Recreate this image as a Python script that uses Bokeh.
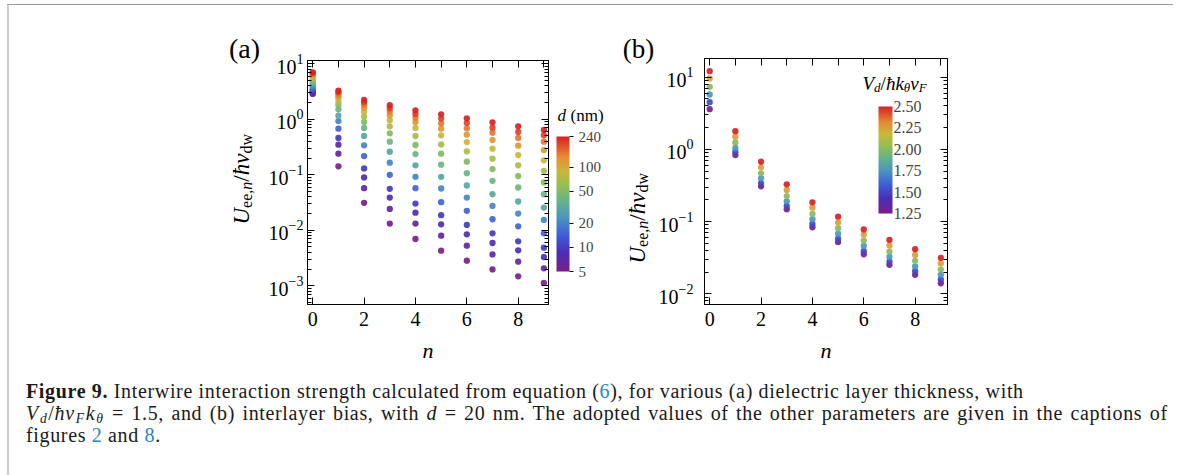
import math
from bokeh.plotting import figure
from bokeh.models import (ColumnDataSource, LogColorMapper, LinearColorMapper, ColorBar,
                          FixedTicker, LinearAxis, LogAxis, Label, Div, Spacer,
                          LogTickFormatter, PrintfTickFormatter)
from bokeh.layouts import row, column
from bokeh.transform import transform
from bokeh.embed import file_html
from bokeh.resources import INLINE

# ---------------- data ----------------
n_values = [0, 1, 2, 3, 4, 5, 6, 7, 8, 9]

# panel (a): dielectric thickness d (nm), ordered large -> small
d_nm = [240, 200, 150, 120, 90, 70, 50, 40, 30, 20, 15, 10, 8, 6.5, 5]
ua_n0 = [7.0, 6.85, 6.6, 6.25, 5.85, 5.45, 5.0, 4.65, 4.3, 3.9, 3.55, 3.3, 3.1, 2.98, 2.86]
ua_n1 = [3.28, 3.07, 2.82, 2.59, 2.39, 2.08, 1.81, 1.51, 1.16, 0.93, 0.677, 0.46, 0.348, 0.240, 0.142]
ua_n2 = [2.23, 2.03, 1.82, 1.60, 1.36, 1.12, 0.895, 0.697, 0.50, 0.339, 0.217, 0.13, 0.0895, 0.0574, 0.0312]
ua_n3 = [1.79, 1.58, 1.38, 1.18, 0.96, 0.747, 0.558, 0.395, 0.26, 0.165, 0.10, 0.0558, 0.0389, 0.0243, 0.0132]
ua_n4 = [1.45, 1.25, 1.07, 0.895, 0.697, 0.50, 0.344, 0.236, 0.148, 0.092, 0.0574, 0.0303, 0.0208, 0.0132, 0.00697]
ua_n5 = [1.23, 1.03, 0.847, 0.678, 0.514, 0.353, 0.240, 0.152, 0.092, 0.0566, 0.0321, 0.0187, 0.0128, 0.0080, 0.0043]
ua_n6 = [1.04, 0.859, 0.688, 0.528, 0.389, 0.264, 0.172, 0.107, 0.0641, 0.0389, 0.0224, 0.0125, 0.00847, 0.00528, 0.00283]
ua_n7 = [0.883, 0.707, 0.574, 0.423, 0.295, 0.195, 0.127, 0.078, 0.0447, 0.0275, 0.0158, 0.00883, 0.0059, 0.00368, 0.00197]
ua_n8 = [0.747, 0.590, 0.460, 0.334, 0.227, 0.148, 0.0946, 0.059, 0.033, 0.020, 0.0118, 0.00633, 0.00435, 0.00272, 0.00148]
ua_n9 = [0.641, 0.514, 0.395, 0.279, 0.182, 0.118, 0.0727, 0.0447, 0.0257, 0.0154, 0.00883, 0.00486, 0.0033, 0.00206, 0.00113]

# panel (b): interlayer bias V_d / hbar k_theta v_F
vd_values = [1.25, 1.5, 1.75, 2.0, 2.25, 2.5]
ub_n0 = [3.61, 4.51, 5.76, 7.35, 9.6, 12.1]
ub_n1 = [0.835, 0.92, 1.05, 1.25, 1.50, 1.79]
ub_n2 = [0.308, 0.342, 0.397, 0.466, 0.564, 0.675]
ub_n3 = [0.148, 0.165, 0.191, 0.226, 0.274, 0.328]
ub_n4 = [0.0835, 0.093, 0.108, 0.128, 0.156, 0.185]
ub_n5 = [0.052, 0.058, 0.068, 0.081, 0.097, 0.117]
ub_n6 = [0.0353, 0.039, 0.046, 0.0546, 0.066, 0.078]
ub_n7 = [0.0252, 0.028, 0.0325, 0.0385, 0.0466, 0.0558]
ub_n8 = [0.0183, 0.0206, 0.0239, 0.0286, 0.0346, 0.0415]
ub_n9 = [0.0140, 0.0158, 0.0183, 0.0217, 0.0265, 0.0315]

x_ticks = [0, 2, 4, 6, 8]
ya_ticks = [1e-3, 1e-2, 1e-1, 1e0, 1e1]
yb_ticks = [1e-2, 1e-1, 1e0, 1e1]
cba_ticks = [5, 10, 20, 50, 100, 240]
cbb_ticks = [1.25, 1.5, 1.75, 2.0, 2.25, 2.5]

# ---------------- colour map (rainbow) ----------------
stops = [(0.0, (122, 30, 135)), (0.14, (75, 45, 185)), (0.27, (62, 95, 215)),
         (0.40, (75, 150, 190)), (0.52, (100, 178, 140)), (0.63, (145, 190, 85)),
         (0.74, (200, 185, 60)), (0.85, (232, 140, 50)), (1.0, (216, 34, 36))]


def make_palette(n=256):
    pal = []
    for i in range(n):
        t = i / (n - 1)
        for (t0, c0), (t1, c1) in zip(stops[:-1], stops[1:]):
            if t0 <= t <= t1:
                f = (t - t0) / (t1 - t0)
                c = [round(a + (b - a) * f) for a, b in zip(c0, c1)]
                pal.append("#%02x%02x%02x" % tuple(c))
                break
    return pal


palette = make_palette()

FONT = "Liberation Serif"

# approximate Times widths (em) for rich label placement
W_R = {" ": .25, "(": .333, ")": .333, ",": .25, ".": .25, "/": .278, "d": .5, "e": .444,
       "m": .778, "n": .5, "w": .722, "k": .5, "v": .5}
W_I = {"U": .722, "V": .611, "F": .611, "d": .5, "e": .444, "n": .5, "k": .444, "v": .444,
       "w": .667, "/": .278, "ħ": .5, "θ": .5, ",": .25}


def text_w(s, size, italic):
    tab = W_I if italic else W_R
    return sum(tab.get(c, .5) for c in s) * size


def add_text(fig, origin, text, px, py, size, italic=False, align="left", angle=0.0):
    # px, py: page pixel position of the anchor, converted to the figure's canvas pixels
    fig.add_layout(Label(x=px - origin[0], y=py - origin[1], x_units="canvas", y_units="canvas",
                         text=text, angle=angle, text_font=FONT,
                         text_font_style=("italic" if italic else "normal"),
                         text_font_size=f"{size}px", text_baseline="alphabetic",
                         text_align=align, text_color="black"))


def rich(fig, origin, pieces, px, py, vertical=False):
    # pieces: (text, font px, italic, baseline shift, gap before)
    pos = 0.0
    for text, size, italic, shift, gap in pieces:
        pos += gap
        if vertical:
            bx, by = px + shift, py - pos
        else:
            bx, by = px + pos, py + shift
        add_text(fig, origin, text, bx, by, size, italic, "left",
                 math.pi / 2 if vertical else 0.0)
        pos += text_w(text, size, italic)


def blank_fig(w, h):
    p = figure(width=w, height=h, x_range=(0, w), y_range=(0, h), x_axis_type=None,
               y_axis_type=None, min_border=0, toolbar_location=None, output_backend="svg",
               frame_align=False)
    p.outline_line_color = None
    p.xgrid.visible = False
    p.ygrid.visible = False
    p.background_fill_color = "white"
    p.border_fill_color = "white"
    return p


def style_axes(p, y_ticks, y_minor, label_standoff_y):
    p.xgrid.visible = False
    p.ygrid.visible = False
    p.outline_line_color = "black"
    p.outline_line_width = 1
    p.background_fill_color = "white"
    p.border_fill_color = "white"
    xa = p.xaxis[0]
    xa.ticker = FixedTicker(ticks=x_ticks, minor_ticks=[])
    ya = p.yaxis[0]
    ya.ticker = FixedTicker(ticks=y_ticks, minor_ticks=y_minor)
    ya.formatter = LogTickFormatter()
    for ax in (xa, ya):
        ax.major_label_text_font = FONT
        ax.major_label_text_font_size = "20px"
        ax.major_label_text_color = "black"
        ax.axis_line_color = "black"
        ax.major_tick_line_color = "black"
        ax.minor_tick_line_color = "black"
        ax.major_tick_in = 7
        ax.major_tick_out = 0
        ax.minor_tick_in = 4
        ax.minor_tick_out = 0
    xa.major_label_standoff = 7
    ya.major_label_standoff = label_standoff_y
    xa.axis_label = "n"
    xa.axis_label_text_font = FONT
    xa.axis_label_text_font_style = "italic"
    xa.axis_label_text_font_size = "22px"
    xa.axis_label_text_color = "black"
    xa.axis_label_standoff = 9
    top = LinearAxis(ticker=FixedTicker(ticks=n_values, minor_ticks=[]))
    right = LogAxis(ticker=FixedTicker(ticks=y_ticks, minor_ticks=y_minor))
    for ax in (top, right):
        ax.major_label_text_font_size = "0px"
        ax.major_label_text_color = None
        ax.major_label_standoff = 0
        ax.axis_line_color = "black"
        ax.major_tick_line_color = "black"
        ax.minor_tick_line_color = "black"
        ax.major_tick_in = 7
        ax.major_tick_out = 0
        ax.minor_tick_in = 4
        ax.minor_tick_out = 0
    p.add_layout(top, "above")
    p.add_layout(right, "right")


def minor_for(decades):
    return [m * 10.0 ** e for e in decades for m in range(2, 10)]


YL_PIECES = [("U", 23, True, 0, 0), ("ee,", 16, False, 5, 0), ("n", 16, True, 5, 0),
             ("/", 23, False, 0, 0), ("ħ", 23, True, 0, 0), ("v", 23, True, 0, 0),
             ("dw", 16, False, 5, 0)]

# page columns: lab_a 9..265 | fig_a 265..552 | cbf_a 552..620 | lab_b 620..655 | fig_b 655..1171
TOP, BOT = 5, 375

# ---------------- panel (a) ----------------
A_L, A_R, A_T, A_B = 304, 548, 60, 304
xa_range = (-0.204, 9.18)
ya_range = (10 ** -3.337, 10 ** 1.059)

lab_a = blank_fig(265 - 9, BOT - TOP)
rich(lab_a, (9, TOP), YL_PIECES, 241, 224, vertical=True)
add_text(lab_a, (9, TOP), "(a)", 244, 48, 28, align="center")

fig_a = figure(width=552 - 265, height=BOT - TOP, x_range=xa_range, y_range=ya_range,
               y_axis_type="log", output_backend="svg", toolbar_location=None,
               min_border_left=A_L - 265, min_border_right=552 - A_R,
               min_border_top=A_T - TOP, min_border_bottom=BOT - A_B, frame_align=False)
style_axes(fig_a, ya_ticks, minor_for([-4, -3, -2, -1, 0, 1]), 4)

ua_cols = [ua_n0, ua_n1, ua_n2, ua_n3, ua_n4, ua_n5, ua_n6, ua_n7, ua_n8, ua_n9]
xs, ys, cs = [], [], []
for n, col in zip(n_values, ua_cols):
    for d, u in reversed(list(zip(d_nm, col))):
        xs.append(n)
        ys.append(u)
        cs.append(d)
src_a = ColumnDataSource(dict(n=xs, u=ys, d=cs))
map_a = LogColorMapper(palette=palette, low=5, high=240)
fig_a.scatter("n", "u", source=src_a, size=6.3, fill_color=transform("d", map_a),
              line_color=None, fill_alpha=0.92)

cbf_a = blank_fig(620 - 552, BOT - TOP)
cb_a = ColorBar(color_mapper=map_a, ticker=FixedTicker(ticks=cba_ticks),
                formatter=PrintfTickFormatter(format="%d"),
                location=(556 - 552, BOT - 271), orientation="vertical", width=13, height=135,
                padding=0, margin=0, title=None, bar_line_color=None,
                major_tick_line_color="black", major_tick_in=0, major_tick_out=4,
                minor_tick_line_color=None, major_label_text_font=FONT,
                major_label_text_font_size="15px", label_standoff=5,
                background_fill_alpha=0, border_line_color=None)
cbf_a.add_layout(cb_a, "center")
rich(cbf_a, (552, TOP), [("d", 17, True, 0, 0), ("(nm)", 17, False, 0, 4.5)], 557, 115)

# ---------------- panel (b) ----------------
B_L, B_R, B_T, B_B = 700, 947, 58, 304
xb_range = (-0.203, 9.26)
yb_range = (10 ** -2.148, 10 ** 1.259)

lab_b = blank_fig(655 - 620, BOT - TOP)
rich(lab_b, (620, TOP), YL_PIECES, 637, 263, vertical=True)
add_text(lab_b, (620, TOP), "(b)", 638, 48, 27, align="center")

fig_b = figure(width=1171 - 655, height=BOT - TOP, x_range=xb_range, y_range=yb_range,
               y_axis_type="log", output_backend="svg", toolbar_location=None,
               min_border_left=B_L - 655, min_border_right=1171 - B_R,
               min_border_top=B_T - TOP, min_border_bottom=BOT - B_B, frame_align=False)
style_axes(fig_b, yb_ticks, minor_for([-3, -2, -1, 0, 1]), 11)

ub_cols = [ub_n0, ub_n1, ub_n2, ub_n3, ub_n4, ub_n5, ub_n6, ub_n7, ub_n8, ub_n9]
xs, ys, cs = [], [], []
for n, col in zip(n_values, ub_cols):
    for v, u in zip(vd_values, col):
        xs.append(n)
        ys.append(u)
        cs.append(v)
src_b = ColumnDataSource(dict(n=xs, u=ys, v=cs))
map_b = LinearColorMapper(palette=palette, low=1.25, high=2.5)
fig_b.scatter("n", "u", source=src_b, size=6.3, fill_color=transform("v", map_b),
              line_color=None, fill_alpha=0.92)

cb_b = ColorBar(color_mapper=map_b, ticker=FixedTicker(ticks=cbb_ticks),
                formatter=PrintfTickFormatter(format="%.2f"),
                location=(874 - B_L, B_B - 213), orientation="vertical", width=14, height=107,
                padding=0, margin=0, title=None, bar_line_color=None,
                major_tick_line_color=None, major_tick_in=0, major_tick_out=0,
                minor_tick_line_color=None, major_label_text_font=FONT,
                major_label_text_font_size="16px", label_standoff=1,
                background_fill_alpha=0, border_line_color=None)
fig_b.add_layout(cb_b, "center")
rich(fig_b, (655, TOP), [("V", 19, True, 0, 0), ("d", 13, True, 4, 0), ("/", 19, False, 0, 0),
                         ("ħk", 19, True, 0, 0), ("θ", 13, True, 4, 0), ("v", 19, True, 0, 0),
                         ("F", 13, True, 4, 0)], 862, 83)

# ---------------- caption ----------------
link = "color:#2f7fbf"
sub = ("font-size:0.68em; line-height:0; position:relative; top:0.2em;"
       " padding-left:1px; padding-right:1px")
line = "height:22px; line-height:22px; white-space:nowrap;"
cap_html = (
    '<div style="font-family:\'Liberation Serif\'; font-size:20px; letter-spacing:0.65px;'
    ' color:#1a1a1a; padding-left:12px; padding-top:0px;">'
    f'<div style="{line}"><b>Figure 9.</b> Interwire interaction strength calculated from equation '
    f'(<span style="{link}">6</span>), for various (a) dielectric layer thickness, with</div>'
    f'<div style="{line} word-spacing:1.8px">'
    f'<i>V</i><span style="{sub}"><i>d</i></span>/<i>ħv</i>'
    f'<span style="{sub}"><i>F</i></span><i>k</i>'
    f'<span style="{sub}"><i>θ</i></span> = 1.5, and (b) interlayer bias, with '
    '<i>d</i> = 20 nm. The adopted values of the other parameters are given in the captions of'
    '</div>'
    f'<div style="{line}">figures <span style="{link}">2</span> and '
    f'<span style="{link}">8</span>.</div>'
    '</div>'
)
caption = Div(text=cap_html, width=1162, height=100)

# ---------------- page layout with frame border ----------------
content = column(row(lab_a, fig_a, cbf_a, lab_b, fig_b), caption)
layout = column(
    Spacer(width=1181, height=4),
    row(Spacer(width=7, height=1), Spacer(width=1166, height=1, styles={"background-color": "#9a9a9a"})),
    row(Spacer(width=7, height=470),
        Spacer(width=2, height=470, styles={"background-color": "#cdcdcd"}),
        content,
        Spacer(width=2, height=470, styles={"background-color": "#cdcdcd"})),
)

open("out.html", "w").write(file_html(layout, INLINE))
